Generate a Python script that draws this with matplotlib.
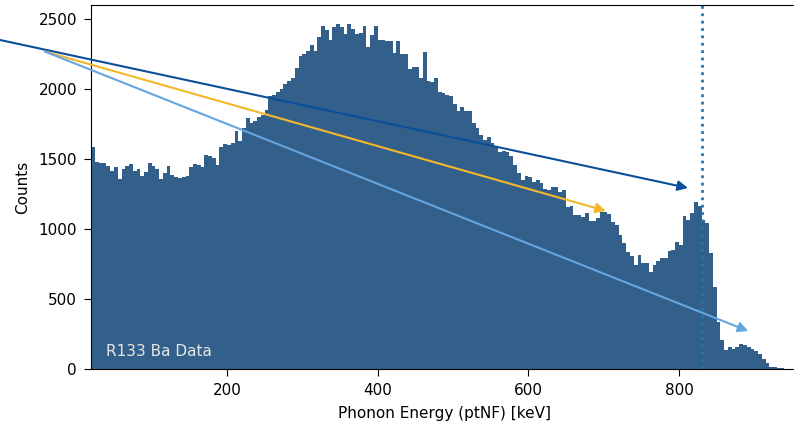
import numpy as np
import matplotlib
matplotlib.use('Agg')
import matplotlib.pyplot as plt

# histogram bins: 5 keV wide, 20..950 keV
bin_lo = 20
bin_hi = 950
bin_w = 5
counts = [
    1583, 1481, 1474, 1474, 1452, 1417, 1440, 1355, 1430, 1452,
    1464, 1417, 1430, 1380, 1410, 1474, 1452, 1430, 1355, 1400,
    1452, 1386, 1374, 1367, 1374, 1380, 1445, 1464, 1455, 1440,
    1528, 1523, 1505, 1455, 1588, 1607, 1600, 1617,
    1700, 1625, 1720, 1790, 1760, 1770, 1800, 1815, 1850, 1950,
    1960, 1980, 2000, 2033, 2060, 2081, 2148, 2238, 2250, 2270,
    2314, 2270, 2374, 2452, 2420, 2350, 2440, 2462, 2440, 2395,
    2467, 2430, 2395, 2400, 2450, 2302, 2386,
    2452, 2350, 2350, 2345, 2340, 2255, 2340, 2250, 2250, 2143,
    2160, 2160, 2077, 2262, 2057, 2050, 2077, 1976, 1970, 1960,
    1950, 1890, 1843, 1870, 1845, 1845, 1755, 1719, 1671, 1636,
    1660, 1612, 1590, 1552, 1560, 1552,
    1520, 1460, 1400, 1350, 1379, 1370, 1338, 1350, 1331, 1285,
    1279, 1300, 1297, 1267, 1275, 1159, 1165, 1100, 1100, 1083,
    1112, 1059, 1060, 1076, 1124, 1124, 1110, 1052, 1029, 960,
    898, 838, 807, 743, 814, 755,
    755, 695, 740, 770, 790, 790, 840, 850, 905, 886,
    1093, 1065, 1117, 1195, 1164, 1065, 1040, 831, 588, 338,
    207, 136, 160, 145, 160, 180, 175, 155, 140, 130,
    110, 75, 40, 12, 12, 10, 5, 0, 0,
]

# reference line
peak_line = 830

# arrows: (start, end) in data coords
arrow_dark = [(-128, 2381), (812, 1293)]
arrow_yellow = [(-42, 2268), (703, 1129)]
arrow_light = [(-42, 2268), (892, 271)]

edges = np.arange(bin_lo, bin_hi + bin_w, bin_w)
centers = edges[:-1] + bin_w / 2

plt.rcParams['font.size'] = 11
plt.rcParams['xtick.major.size'] = 5
plt.rcParams['ytick.major.size'] = 5
plt.rcParams['xtick.major.pad'] = 5
plt.rcParams['ytick.major.pad'] = 5
plt.rcParams['axes.labelpad'] = 6

fig = plt.figure(figsize=(7.94, 4.22), dpi=100)
ax = fig.add_axes([91 / 794, 53 / 422, 706 / 794, 364 / 422])

ax.hist(centers, bins=edges, weights=counts, histtype='stepfilled',
        color='#33608a')
ax.axvline(peak_line, color='#1f77b4', linestyle=':', linewidth=2)

for (start, end), col in [(arrow_dark, '#0b4f9a'),
                          (arrow_yellow, '#f2b82a'),
                          (arrow_light, '#65a5e0')]:
    ax.annotate('', xy=end, xytext=start, annotation_clip=False,
                arrowprops=dict(arrowstyle='-|>', color=col, lw=1.5,
                                mutation_scale=15, shrinkA=0, shrinkB=0))

ax.text(0.021, 0.047, 'R133 Ba Data', transform=ax.transAxes,
        color='#e6e6e6', fontsize=11, va='center', ha='left')

ax.set_xlim(19.5, 19.5 + 706 / 0.7533)
ax.set_ylim(0, 2600)
ax.set_xticks([200, 400, 600, 800])
ax.set_yticks([0, 500, 1000, 1500, 2000, 2500])
ax.set_xlabel('Phonon Energy (ptNF) [keV]')
ax.set_ylabel('Counts')

plt.savefig('out.png', dpi=100)
